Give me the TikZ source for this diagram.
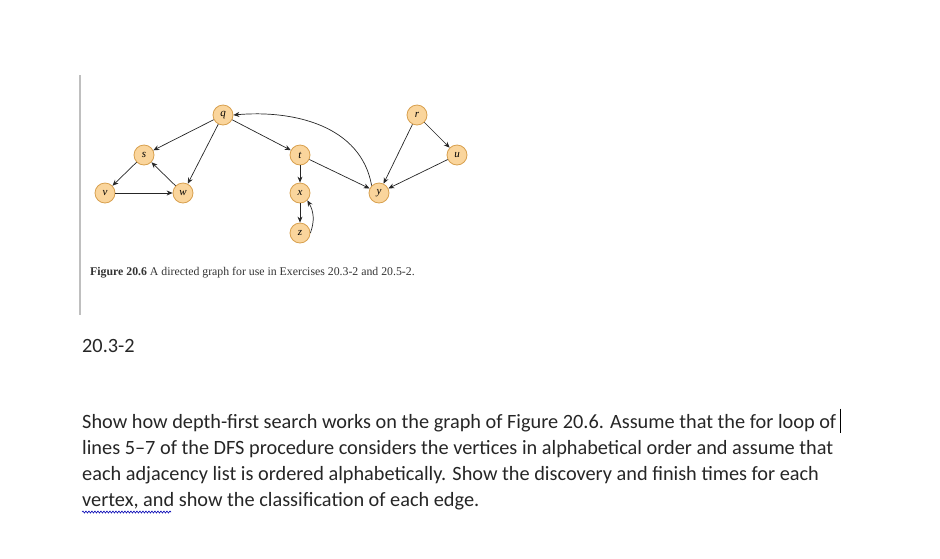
\documentclass[tikz,border=0pt]{standalone}
\usepackage{fontspec}
\setmainfont{Carlito}
\newfontfamily\capfont{Liberation Serif}
\usetikzlibrary{arrows.meta,decorations.pathmorphing}
\definecolor{nfill}{HTML}{FAD59C}
\definecolor{nborder}{HTML}{D8A04E}
\tikzset{
  vert/.style={circle,fill=nfill,draw=nborder,line width=0.8pt,minimum size=20pt,inner sep=0pt,font=\capfont\itshape\fontsize{11}{11}\selectfont},
  edge/.style={-{Stealth[length=6pt,width=5pt]},line width=0.7pt,draw=black!85},
  body/.style={anchor=base west,inner sep=0pt,font=\fontsize{20.3}{22}\selectfont,text=black!85}
}
\begin{document}
\begin{tikzpicture}[x=1pt,y=-1pt]
\useasboundingbox (0,0) rectangle (940,558);
\draw[black!25,line width=1.2pt] (80,75) -- (80,315);
\node[vert] (q) at (223,115) {q};
\node[vert] (s) at (144,155) {s};
\node[vert] (v) at (105,193) {v};
\node[vert] (w) at (183,193) {w};
\node[vert] (t) at (300,155) {t};
\node[vert] (x) at (300,193) {x};
\node[vert] (z) at (300,233) {z};
\node[vert] (y) at (379,193) {y};
\node[vert] (r) at (417,115) {r};
\node[vert] (u) at (457,155) {u};
\draw[edge] (q) -- (s);
\draw[edge] (q) -- (w);
\draw[edge] (q) -- (t);
\draw[edge] (s) -- (v);
\draw[edge] (v) -- (w);
\draw[edge] (w) -- (s);
\draw[edge] (t) -- (x);
\draw[edge] (t) -- (y);
\draw[edge] (x) -- (z);
\draw[edge] (z.east) to[out=70,in=-60] (x.south east);
\draw[edge] (y.north west) to[out=100,in=5] (q.east);
\draw[edge] (r) -- (y);
\draw[edge] (r) -- (u);
\draw[edge] (u) -- (y);
\node[anchor=base west,inner sep=0pt,font=\capfont\fontsize{11.8}{13}\selectfont,text=black!80] (cap) at (90,275) {\textbf{Figure 20.6} A directed graph for use in Exercises 20.3-2 and 20.5-2.};
\node[body] (h) at (82,352) {20.3-2};
\node[body] (l1) at (82,428) {Show how depth-first search works on the graph of Figure 20.6. Assume that the for loop of};
\node[body] (l2) at (82,454) {lines 5--7 of the DFS procedure considers the vertices in alphabetical order and assume that};
\node[body] (l3) at (82,480) {each adjacency list is ordered alphabetically. Show the discovery and finish times for each};
\node[body] (l4) at (82,506) {vertex, and show the classification of each edge.};
\draw[black,line width=0.8pt] (l1.east)++(4,-14) -- ++(0,24);
\draw[blue!70!black,line width=0.6pt,decorate,decoration={snake,amplitude=1pt,segment length=3pt}] (82,512) -- (171,512);
\end{tikzpicture}
\end{document}
